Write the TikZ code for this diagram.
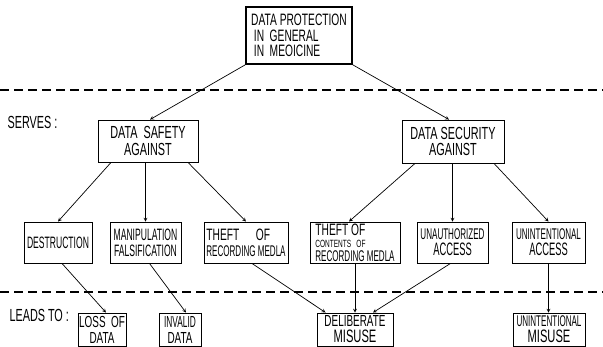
\documentclass[tikz,border=0pt]{standalone}
\usepackage{fontspec}
\setmainfont{Liberation Sans}[FakeStretch=0.62]
\newfontfamily\narrowfam{Liberation Sans}[FakeStretch=0.52]
\newcommand\lvltop{\fontsize{16.5}{15.5}\selectfont}
\newcommand\lvlone{\fontsize{17.5}{16.5}\selectfont}
\newcommand\lvltwo{\narrowfam\fontsize{16.5}{16}\selectfont}
\newcommand\lvlrec{\narrowfam\fontsize{15.5}{16}\selectfont}
\newcommand\lvlacc{\narrowfam\fontsize{18}{16}\selectfont}
\newcommand\lvlthe{\rmfamily\fontsize{16.5}{16}\selectfont}
\newcommand\lvlsmall{\rmfamily\fontsize{10.5}{12}\selectfont}
\newcommand\lvlend{\fontsize{16}{16}\selectfont}
\newcommand\lvlmis{\rmfamily\fontsize{18}{16}\selectfont}
\tikzset{
  box/.style={draw, line width=0.9pt, inner sep=0pt, align=center},
  arr/.style={line width=0.7pt, -stealth},
  sep/.style={line width=1.1pt, dash pattern=on 9pt off 5pt}
}
\begin{document}
\begin{tikzpicture}[x=1pt,y=-1pt]
  \useasboundingbox (0,0) rectangle (603,347);

  % top
  \node[box, line width=1.8pt, minimum width=106pt, minimum height=57pt, align=left, font=\lvltop]
    (prot) at (299,35.5) {DATA PROTECTION\\ \,IN\, GENERAL\\ \,IN\, MEOICINE};

  \draw[sep] (0,90) -- (603,90);
  \node[anchor=west, font=\lvlone] (serves) at (4,122) {SERVES\,:};

  \node[box, minimum width=100pt, minimum height=42pt, font=\lvlone] (safety) at (148,141) {DATA\, SAFETY\\ AGAINST};
  \node[box, minimum width=102pt, minimum height=43pt, font=\lvlone] (security) at (453,141.5) {DATA SECURITY\\ AGAINST};

  % threats
  \node[box, minimum width=68pt, minimum height=41pt, font=\lvltwo] (destr) at (58,242.5) {DESTRUCTION};
  \node[box, minimum width=71pt, minimum height=41pt, font=\lvltwo] (manip) at (145.5,242.5) {MANIPULATION\\ FALSIFICATION};
  \node[box, minimum width=84pt, minimum height=41pt, align=left, font=\lvlthe] (theft) at (246,242.5)
    {THEFT\quad OF\\ \lvlrec RECORDING MEDLA};
  \node[box, minimum width=90pt, minimum height=41pt, align=left, font=\lvlthe] (contents) at (355,242.5)
    {THEFT OF\\[-4pt] \lvlsmall CONTENTS\,\, OF\\[-2pt] \lvlrec RECORDING MEDLA};
  \node[box, minimum width=71pt, minimum height=41pt, font=\lvlrec] (unauth) at (452.5,242.5) {UNAUTHORIZED\\ \lvlacc ACCESS};
  \node[box, minimum width=73pt, minimum height=41pt, font=\lvlrec] (unint) at (548.5,242.5) {UNINTENTIONAL\\ \lvlacc ACCESS};

  \draw[sep] (0,292) -- (603,292);
  \node[anchor=west, font=\lvlone] (leads) at (6,315) {LEADS\,TO\,:};

  % results
  \node[box, minimum width=48pt, minimum height=33pt, font=\lvlend] (loss) at (102,329.5) {LOSS\, OF\\ DATA};
  \node[box, minimum width=42pt, minimum height=33pt, font=\lvlend] (invalid) at (180,329.5) {\narrowfam INVALID\\ DATA};
  \node[box, minimum width=76pt, minimum height=33pt, font=\lvlend] (delib) at (355,329.5) {DELIBERATE\\ \lvlmis MISUSE};
  \node[box, minimum width=72pt, minimum height=33pt, font=\lvlrec] (unmis) at (549,329.5) {UNINTENTIONAL\\ \lvlmis MISUSE};

  \draw[arr] (prot.south west) -- ([xshift=2pt]safety.north);
  \draw[arr] (prot.south east) -- ([xshift=-4pt]security.north);

  \draw[arr] ([xshift=-37pt]safety.south) -- (destr.north);
  \draw[arr] (manip.north |- safety.south) -- (manip.north);
  \draw[arr] ([xshift=40pt]safety.south) -- (theft.north);
  \draw[arr] ([xshift=-38pt]security.south) -- ([xshift=-6pt]contents.north);
  \draw[arr] (unauth.north |- security.south) -- (unauth.north);
  \draw[arr] ([xshift=41pt]security.south) -- (unint.north);

  \draw[arr] ([xshift=4pt]destr.south) -- ([xshift=4pt]loss.north);
  \draw[arr] ([xshift=4pt]manip.south) -- ([xshift=6pt]invalid.north);
  \draw[arr] ([xshift=6pt]theft.south) -- ([xshift=9pt]delib.north west);
  \draw[arr] (contents.south) -- (contents.south |- delib.north);
  \draw[arr] ([xshift=-2pt]unauth.south) -- ([xshift=18pt]delib.north);
  \draw[arr] (unint.south) -- (unint.south |- unmis.north);
\end{tikzpicture}
\end{document}
